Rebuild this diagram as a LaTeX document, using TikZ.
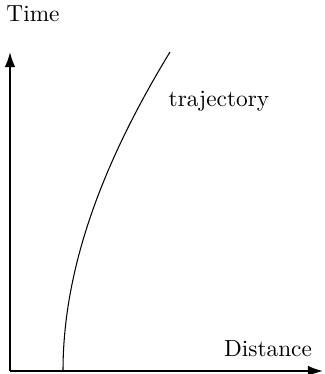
\documentclass[tikz,border=0pt]{standalone}
\usetikzlibrary{arrows.meta}
\begin{document}
\begin{tikzpicture}[x=0.429pt,y=-0.429pt,
  axis/.style={line width=0.85pt,-{Latex[length=6.5pt,width=4.6pt]}},
  traj/.style={line width=0.45pt},
  lbl/.style={inner sep=0pt,font=\normalsize}]
\useasboundingbox (0,0) rectangle (324,374);
\coordinate (o) at (10,371);
\coordinate (ytip) at (10,52);
\coordinate (xtip) at (323,371);
\coordinate (s) at (63,371);
\coordinate (e) at (170,52);
\draw[axis] (o) -- (ytip);
\draw[axis] (o) -- (xtip);
\draw[traj] (s) .. controls (63,264) and (106,157) .. (e);
\node[lbl] (time) at (33,14) {Time};
\node[lbl] (tr) at (219,101) {trajectory};
\node[lbl] (dist) at (268,349) {Distance};
\end{tikzpicture}
\end{document}
